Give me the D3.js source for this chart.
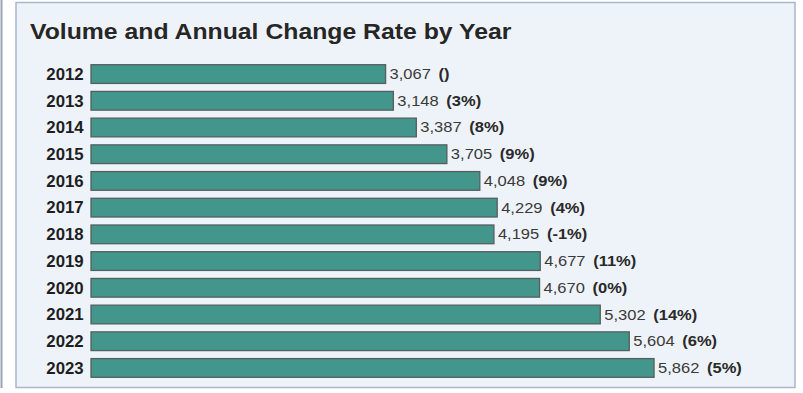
<!DOCTYPE html>
<html><head><meta charset="utf-8">
<script src="https://cdn.jsdelivr.net/npm/d3@7"></script>
<style>body{margin:0;background:#fff;}svg{display:block;font-family:"Liberation Sans",Arial,sans-serif;}</style>
</head><body>
<svg id="c" width="803" height="393"></svg>
<script>
const years = ["2012","2013","2014","2015","2016","2017","2018","2019","2020","2021","2022","2023"];
const volumes = [3067,3148,3387,3705,4048,4229,4195,4677,4670,5302,5604,5862];
const changes = ["()","(3%)","(8%)","(9%)","(9%)","(4%)","(-1%)","(11%)","(0%)","(14%)","(6%)","(5%)"];
const title = "Volume and Annual Change Rate by Year";

const svg = d3.select("#c");
svg.append("line").attr("x1",1.5).attr("x2",1.5).attr("y1",0).attr("y2",388).attr("stroke","#9aa3b5").attr("stroke-width",2);
svg.append("rect").attr("x",16).attr("y",2.5).attr("width",779).attr("height",385)
  .attr("fill","#eef3f9").attr("stroke","#a9b6cc").attr("stroke-width",1.5);
svg.append("text").attr("transform","translate(30,38.5) scale(1.127,1)").text(title)
  .attr("font-size",22).attr("font-weight","bold").attr("fill","#262626");

const x = d3.scaleLinear().domain([0,6000]).range([91, 91+6000*0.09605]);
const y = d3.scaleBand().domain(years).range([60.7,381.3]).paddingInner(0.3).paddingOuter(0.15);

svg.append("g").selectAll("rect").data(years).join("rect")
  .attr("x",x(0)).attr("y",d=>y(d)).attr("width",(d,i)=>x(volumes[i])-x(0)).attr("height",y.bandwidth())
  .attr("fill","#42968b").attr("stroke","#555f5d").attr("stroke-width",1.3);

const yAxis = d3.axisLeft(y).tickSize(0).tickPadding(7);
const ga = svg.append("g").attr("transform",`translate(${x(0)},0)`).call(yAxis);
ga.select(".domain").remove();
ga.selectAll("text").attr("font-size",16).attr("font-weight","bold").attr("fill","#1e1e1e")
  .attr("font-family","Liberation Sans, Arial, sans-serif").attr("dy","0.36em").attr("transform","scale(1.05,1)");

const lab = svg.append("g").selectAll("text").data(years).join("text")
  .attr("transform",(d,i)=>`translate(${x(volumes[i])+4},${y(d)+y.bandwidth()/2+5}) scale(1.18,1)`)
  .attr("font-size",14).attr("fill","#3a3a3a");
lab.append("tspan").text((d,i)=>d3.format(",")(volumes[i]));
lab.append("tspan").attr("dx",6.5).attr("font-weight","bold").attr("fill","#2a2a2a").text((d,i)=>changes[i]);
</script>
</body></html>
